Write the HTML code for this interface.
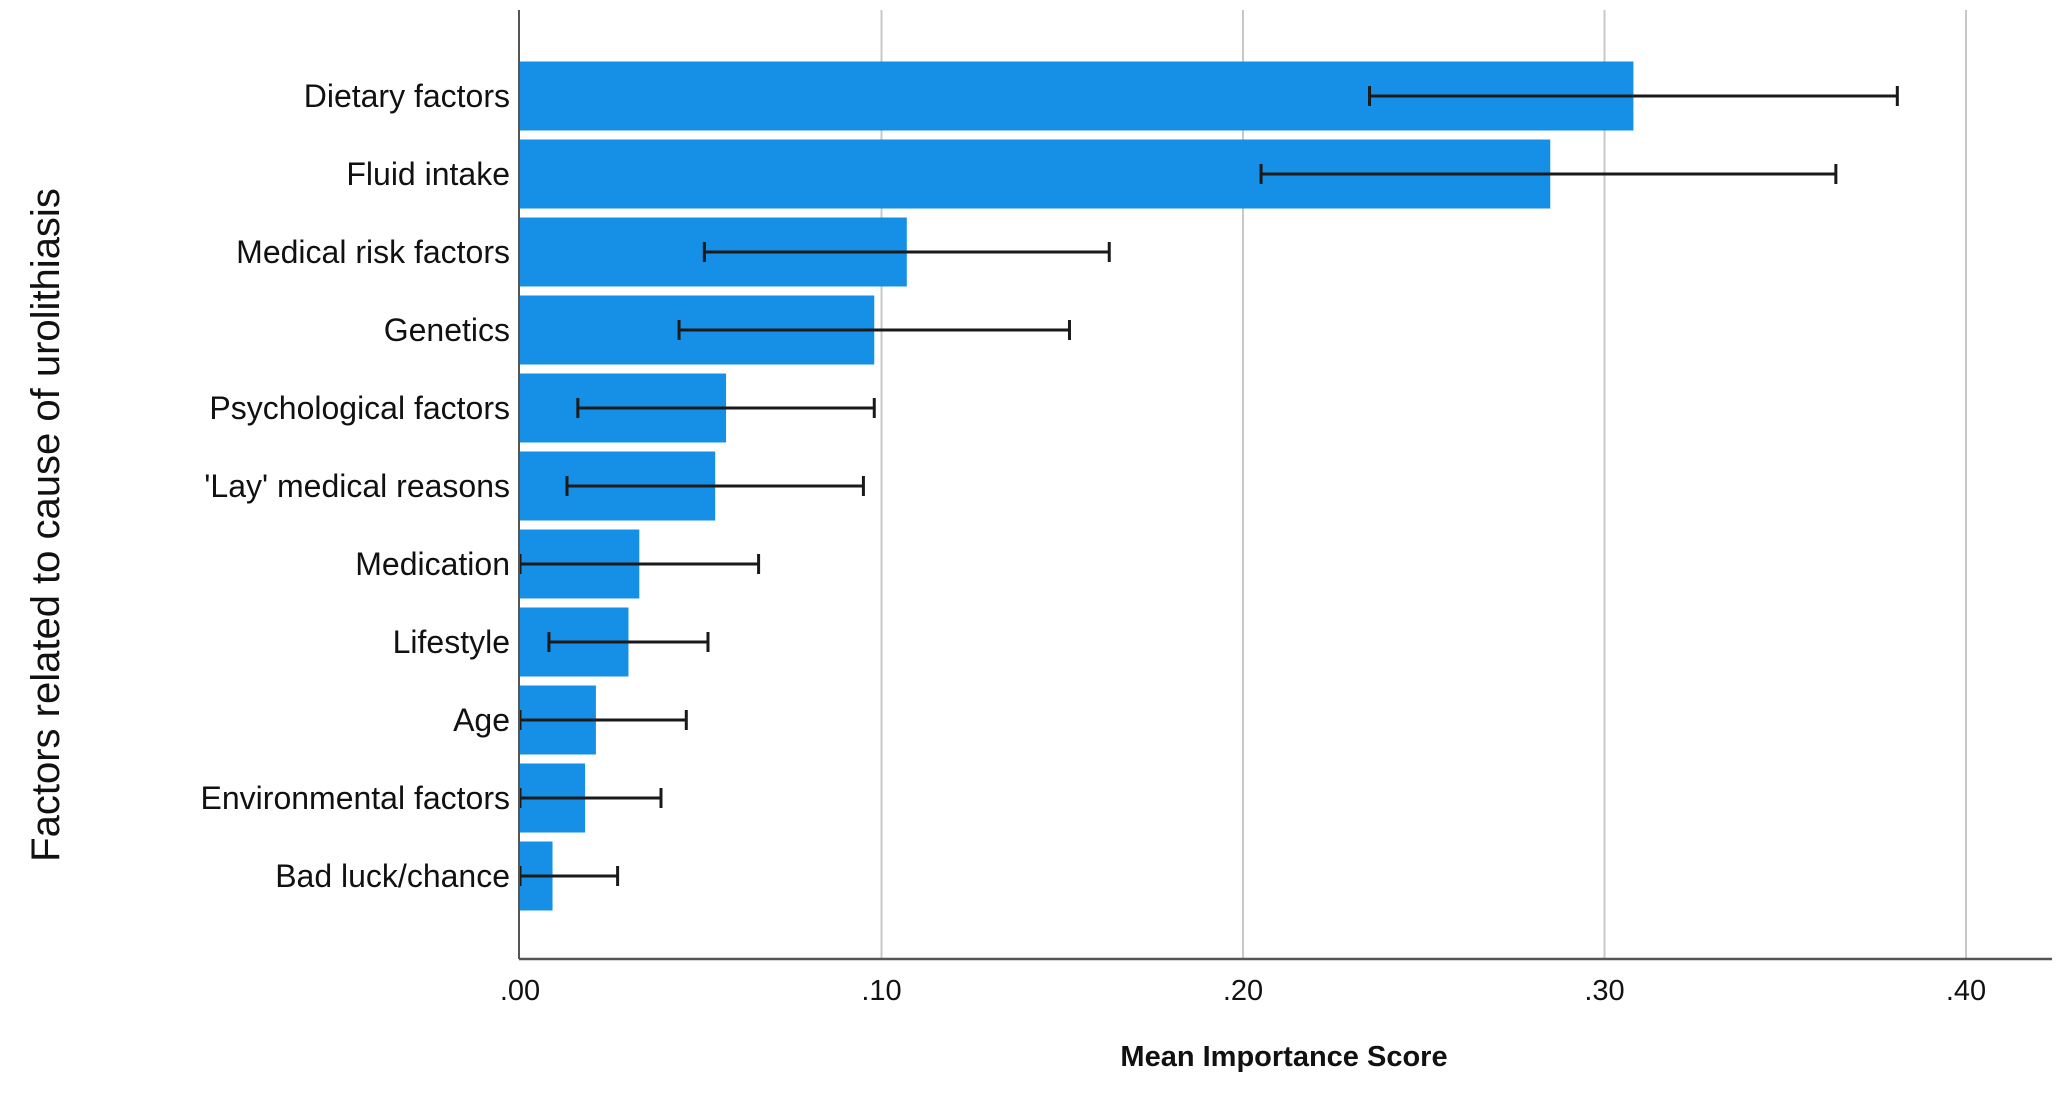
<!DOCTYPE html>
<html><head><meta charset="utf-8"><style>
body{margin:0;background:#fff;width:2056px;height:1115px;overflow:hidden}
svg text{font-family:"Liberation Sans",sans-serif;fill:#111}
</style></head><body>
<svg id="chart" width="2056" height="1115" xmlns="http://www.w3.org/2000/svg">
<g id="grid"></g>
<g id="bars"></g>
<g id="errs"></g>
<g id="labels"></g>
<g id="ticks"></g>
<line x1="519" y1="10" x2="519" y2="959" stroke="#555" stroke-width="2"/>
<line x1="519" y1="959" x2="2052" y2="959" stroke="#555" stroke-width="2.5"/>
<text x="1284" y="1066" text-anchor="middle" font-size="29" font-weight="bold">Mean Importance Score</text>
<text transform="translate(59,525) rotate(-90)" text-anchor="middle" font-size="40">Factors related to cause of urolithiasis</text>
</svg>
<script>
const categories=["Dietary factors","Fluid intake","Medical risk factors","Genetics","Psychological factors","'Lay' medical reasons","Medication","Lifestyle","Age","Environmental factors","Bad luck/chance"];
const means=[0.308,0.285,0.107,0.098,0.057,0.054,0.033,0.030,0.021,0.018,0.009];
const lows=[0.235,0.205,0.051,0.044,0.016,0.013,0.000,0.008,0.000,0.000,0.000];
const highs=[0.381,0.364,0.163,0.152,0.098,0.095,0.066,0.052,0.046,0.039,0.027];
const ticks=[0,0.1,0.2,0.3,0.4];
const tickLabels=[".00",".10",".20",".30",".40"];
const NS="http://www.w3.org/2000/svg";
const x=v=>520+v*3615;
const yc=i=>96+i*78;
const bh=69;
function mk(t,a,p){const e=document.createElementNS(NS,t);for(const k in a)e.setAttribute(k,a[k]);p.appendChild(e);return e;}
const G=document.getElementById('grid'),B=document.getElementById('bars'),E=document.getElementById('errs'),L=document.getElementById('labels'),T=document.getElementById('ticks');
ticks.forEach((t,i)=>{
 if(t>0){const g=mk('line',{x1:x(t),x2:x(t),y1:10,y2:959,stroke:'#c8c8c8','stroke-width':2},G);
 
 }
 const tl=mk('text',{x:x(t),y:1000,'text-anchor':'middle','font-size':29},T);
 
 
 tl.textContent=tickLabels[i];
});
categories.forEach((c,i)=>{
 const r=mk('rect',{x:x(0),y:yc(i)-bh/2,width:x(means[i])-x(0),height:bh,fill:'#1590e6'},B);
 
 
 const g=mk('g',{stroke:'#1a1a1a','stroke-width':3},E);
 
 
 mk('line',{x1:x(lows[i]),x2:x(highs[i]),y1:yc(i),y2:yc(i)},g);
 mk('line',{x1:x(lows[i]),x2:x(lows[i]),y1:yc(i)-10,y2:yc(i)+10},g);
 mk('line',{x1:x(highs[i]),x2:x(highs[i]),y1:yc(i)-10,y2:yc(i)+10},g);
 const t=mk('text',{x:510,y:yc(i)+11,'text-anchor':'end','font-size':32},L);
 
 
 t.textContent=c;
});
</script>
</body></html>
